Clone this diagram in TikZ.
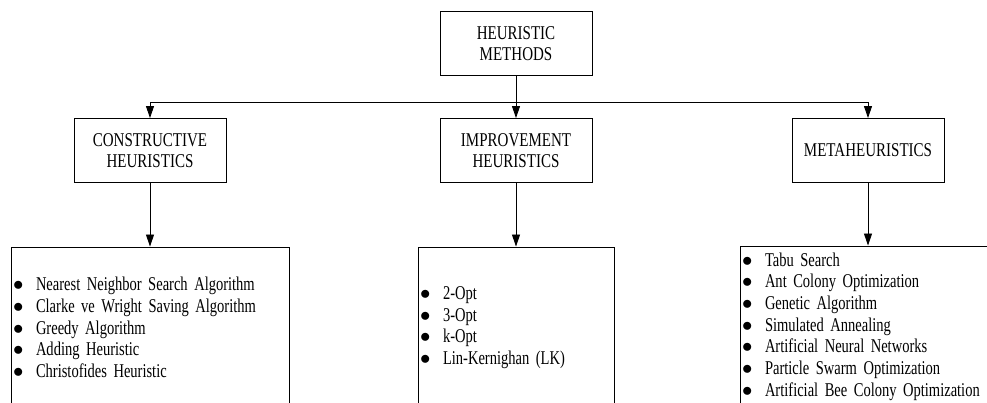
\documentclass[tikz,border=0pt]{standalone}
\usepackage{fontspec}
\setmainfont{Liberation Serif}[FakeStretch=0.77]
\newfontfamily\listfont{Liberation Serif}[FakeStretch=0.745]
\usetikzlibrary{arrows.meta}
\newcommand{\itm}[0] {\makebox[23pt][l]{$\bullet$}}

\tikzset{
  box/.style={shape=rectangle,draw=black,line width=0.9pt,align=center,
    minimum width=152pt,minimum height=64pt,inner sep=0pt},
  listbox/.style={shape=rectangle,draw=black,line width=0.9pt,align=left,
    minimum height=161pt,inner xsep=2pt,inner ysep=0pt,
    font=\listfont\fontsize{19.5}{21.7}\selectfont},
  arr/.style={-{Triangle[length=12pt,width=8pt]},line width=0.9pt}
}

\begin{document}
\begin{tikzpicture}[x=1pt,y=-1pt,font=\fontsize{19.5}{21.7}\selectfont]
        \useasboundingbox (0,0) rectangle (987,403);
        \clip (0,0) rectangle (987,403);

        \node[box] (a) at (516, 43.5)     {HEURISTIC\\METHODS};
        \node[box] (b) at (150, 150.5)    {CONSTRUCTIVE\\HEURISTICS};
        \node[box] (c) at (516, 150.5)    {IMPROVEMENT\\HEURISTICS};
        \node[box] (d) at (868, 150.5)    {METAHEURISTICS};

        \node[listbox,text width=274pt] (e) at (150, 327.5) {
          \itm Nearest Neighbor Search Algorithm\\
          \itm Clarke ve Wright Saving Algorithm\\
          \itm Greedy Algorithm\\
          \itm Adding Heuristic\\
          \itm Christofides Heuristic};
        \node[listbox,text width=192pt] (f) at (516, 327.5) {
          \itm 2-Opt\\
          \itm 3-Opt\\
          \itm k-Opt\\
          \itm Lin-Kernighan (LK)};
        \node[listbox,text width=252pt] (g) at (868, 326.5) {
          \itm Tabu Search\\
          \itm Ant Colony Optimization\\
          \itm Genetic Algorithm\\
          \itm Simulated Annealing\\
          \itm Artificial Neural Networks\\
          \itm Particle Swarm Optimization\\
          \itm Artificial Bee Colony Optimization};

        \coordinate (s) at (516, 102);

        %methods to their kinds
        \path[arr] (a) edge (c);
        \draw[arr] (s) -| (b);
        \draw[arr] (s) -| (d);

        %kinds to their lists
        \path[arr] (b) edge (e);
        \path[arr] (c) edge (f);
        \path[arr] (d) edge (g);
\end{tikzpicture}
\end{document}
